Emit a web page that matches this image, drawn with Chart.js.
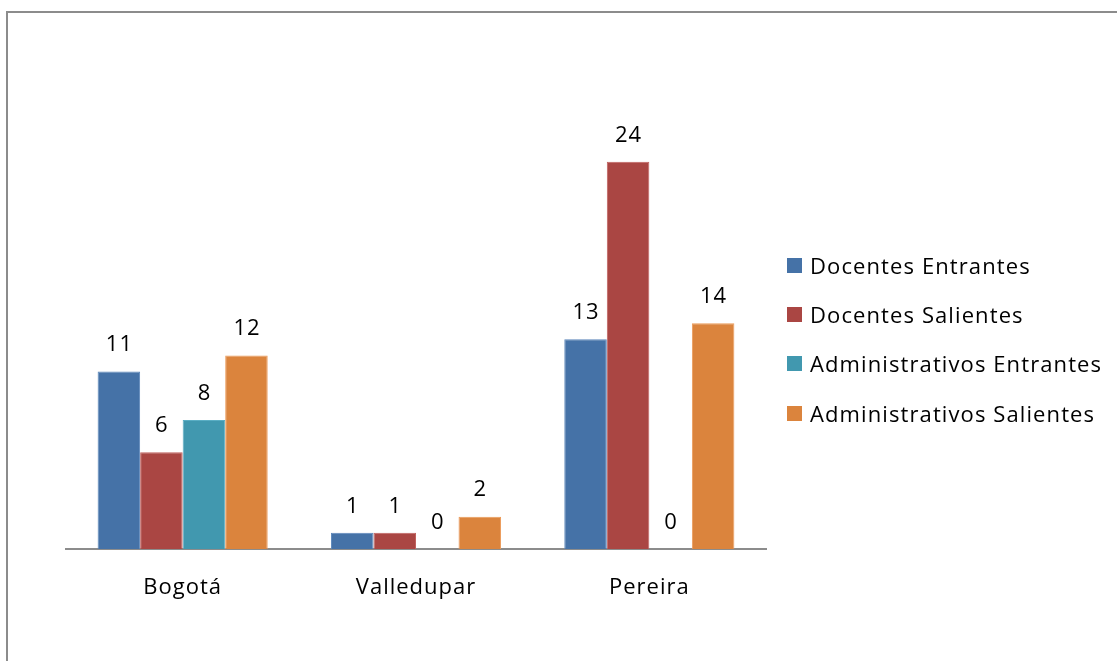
<!DOCTYPE html>
<html>
<head>
<meta charset="utf-8">
<script src="https://cdn.jsdelivr.net/npm/chart.js@4.4.1/dist/chart.umd.min.js"></script>
<style>
  html, body { margin: 0; padding: 0; background: #fff; width: 1117px; height: 661px; overflow: hidden; }
  #wrap { position: absolute; left: 0; top: 0; width: 1117px; height: 661px; }
  #frame { position: absolute; left: 6px; top: 11px; width: 1200px; height: 800px; border-left: 2px solid #8c8c8c; border-top: 2px solid #8c8c8c; pointer-events: none; }
  #legend { position: absolute; left: 787px; top: 0; font-family: "Open Sans", Lato, sans-serif; font-size: 22px; letter-spacing: 1.1px; color: #000; }
  .item { position: absolute; left: 0; white-space: nowrap; height: 26px; line-height: 26px; }
  .sw { position: absolute; left: 0; top: 6px; width: 15px; height: 15px; }
  .lt { position: absolute; left: 23px; top: 0; }
</style>
</head>
<body>
<div id="wrap">
  <canvas id="c" width="1117" height="661"></canvas>
  <div id="frame"></div>
  <div id="legend"></div>
</div>
<script>
const categories = ["Bogotá", "Valledupar", "Pereira"];
const seriesNames = ["Docentes Entrantes", "Docentes Salientes", "Administrativos Entrantes", "Administrativos Salientes"];
const docentesEntrantes = [11, 1, 13];
const docentesSalientes = [6, 1, 24];
const administrativosEntrantes = [8, 0, 0];
const administrativosSalientes = [12, 2, 14];
const colors = ["#4572A7", "#AA4643", "#4198AF", "#DB843D"];
const edgeColors = ["#5b86ba", "#c0605d", "#5aaec4", "#ec9a58"];

const seriesValues = [docentesEntrantes, docentesSalientes, administrativosEntrantes, administrativosSalientes];
const FONT = '"Open Sans", Lato, sans-serif';

const spacing = {
  id: 'spacing',
  beforeDraw(chart) { chart.ctx.letterSpacing = '1px'; }
};

const valueLabels = {
  id: 'valueLabels',
  afterDatasetsDraw(chart) {
    const ctx = chart.ctx;
    ctx.save();
    ctx.letterSpacing = '1px';
    ctx.font = '22px ' + FONT;
    ctx.fillStyle = '#000';
    ctx.textAlign = 'center';
    ctx.textBaseline = 'middle';
    chart.data.datasets.forEach((ds, i) => {
      const meta = chart.getDatasetMeta(i);
      meta.data.forEach((bar, j) => {
        ctx.fillText(String(ds.data[j]), bar.x + 0.5, bar.y - 26.5);
      });
    });
    ctx.restore();
  }
};

new Chart(document.getElementById('c'), {
  type: 'bar',
  data: {
    labels: categories,
    datasets: seriesNames.map((n, i) => ({
      label: n,
      data: seriesValues[i],
      backgroundColor: colors[i],
      borderColor: edgeColors[i],
      borderWidth: 1,
      categoryPercentage: 0.729,
      barPercentage: 1.0
    }))
  },
  options: {
    responsive: false,
    animation: false,
    devicePixelRatio: 1,
    layout: { padding: { left: 66, right: 351, top: 65, bottom: 0 } },
    plugins: { legend: { display: false }, tooltip: { enabled: false } },
    scales: {
      x: {
        grid: { display: false, drawTicks: false },
        border: { display: true, color: '#8c8c8c', width: 2 },
        ticks: { color: '#000', font: { family: FONT, size: 22 }, padding: 26 },
        afterFit(scale) { scale.height = 112; }
      },
      y: {
        display: false,
        min: 0,
        max: 30
      }
    }
  },
  plugins: [spacing, valueLabels]
});

const legend = document.getElementById('legend');
const rowY = [265, 314, 363, 413];
seriesNames.forEach((n, i) => {
  const it = document.createElement('div');
  it.className = 'item';
  it.style.top = (rowY[i] - 13) + 'px';
  it.innerHTML = '<span class="sw" style="background:' + colors[i] + '"></span><span class="lt"></span>';
  it.querySelector('.lt').textContent = n;
  legend.appendChild(it);
});
</script>
</body>
</html>
